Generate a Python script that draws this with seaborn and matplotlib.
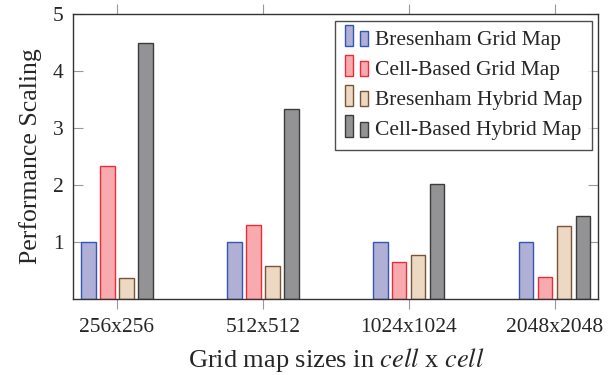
import pandas as pd
import matplotlib
matplotlib.use("Agg")
import matplotlib.pyplot as plt
import seaborn as sns
import matplotlib.patches as mpatches
from matplotlib.legend_handler import HandlerBase

# Data
grid_sizes = ['256x256', '512x512', '1024x1024', '2048x2048']
map_types = ['Bresenham Grid Map', 'Cell-Based Grid Map',
             'Bresenham Hybrid Map', 'Cell-Based Hybrid Map']
bresenham_grid = [1.0, 1.0, 1.0, 1.0]
cellbased_grid = [2.34, 1.30, 0.65, 0.39]
bresenham_hybrid = [0.37, 0.57, 0.77, 1.28]
cellbased_hybrid = [4.49, 3.34, 2.01, 1.45]

FILL_COLORS = ['#b0b0d6', '#f7abaf', '#ecd8c3', '#939396']
EDGE_COLORS = ['#3355b5', '#ee2b36', '#7a5434', '#3c3c3c']

sns.set_style("ticks")
plt.rcParams['font.family'] = ['Liberation Serif', 'DejaVu Serif']
plt.rcParams['mathtext.fontset'] = 'stix'


class TwoBarHandler(HandlerBase):
    # pgfplots-style legend image: a tall bar and a shorter bar side by side
    def create_artists(self, legend, orig_handle, xdescent, ydescent,
                       width, height, fontsize, trans):
        fc = orig_handle.get_facecolor()
        ec = orig_handle.get_edgecolor()
        x0, y0 = -xdescent, -ydescent - 0.15 * height
        bw = width * 0.34
        tall = height * 1.55
        short = height * 1.1
        r1 = mpatches.Rectangle((x0, y0), bw, tall, facecolor=fc, edgecolor=ec,
                                linewidth=1.0, transform=trans)
        r2 = mpatches.Rectangle((x0 + width - bw, y0), bw, short, facecolor=fc,
                                edgecolor=ec, linewidth=1.0, transform=trans)
        return [r1, r2]


df = pd.DataFrame({
    'size': grid_sizes * 4,
    'map': [m for m in map_types for _ in grid_sizes],
    'value': bresenham_grid + cellbased_grid + bresenham_hybrid + cellbased_hybrid,
})

fig, ax = plt.subplots(figsize=(6.1, 3.75), dpi=100)
fig.subplots_adjust(left=0.120, right=0.981, top=0.962, bottom=0.203)

sns.barplot(data=df, x='size', y='value', hue='map', order=grid_sizes,
            hue_order=map_types, palette=FILL_COLORS, width=0.52, gap=0.24,
            errorbar=None, legend=False, saturation=1, ax=ax)

for cont, ec in zip(ax.containers, EDGE_COLORS):
    for bar in cont:
        bar.set_edgecolor(ec)
        bar.set_linewidth(1.0)

ax.set_xlim(-0.3, 3.3)
ax.set_ylim(0, 5)
ax.set_yticks([1, 2, 3, 4, 5])

ax.set_xlabel(r'Grid map sizes in $\mathit{cell}$ x $\mathit{cell}$', fontsize=19, labelpad=7)
ax.set_ylabel('Performance Scaling', fontsize=18.5, labelpad=8)

ax.tick_params(axis='x', direction='out', top=True, length=7.5, width=0.8,
               color='#999999', labelsize=15.5, pad=6)
ax.tick_params(axis='y', direction='in', right=True, length=7.5, width=0.8,
               color='#999999', labelsize=15.5, pad=7)
for s in ax.spines.values():
    s.set_color('#333333')
    s.set_linewidth(1.0)

handles = [mpatches.Patch(facecolor=fc, edgecolor=ec, label=m)
           for fc, ec, m in zip(FILL_COLORS, EDGE_COLORS, map_types)]
leg = ax.legend(handles=handles, handler_map={mpatches.Patch: TwoBarHandler()},
                loc='upper right', bbox_to_anchor=(1.0, 1.0), borderaxespad=0.3,
                fontsize=15.5, frameon=True, fancybox=False, edgecolor='#222222',
                handlelength=1.1, handleheight=0.6, handletextpad=0.3,
                labelspacing=0.5, borderpad=0.45)
leg.get_frame().set_linewidth(1.0)

fig.savefig('out.png', dpi=100)
